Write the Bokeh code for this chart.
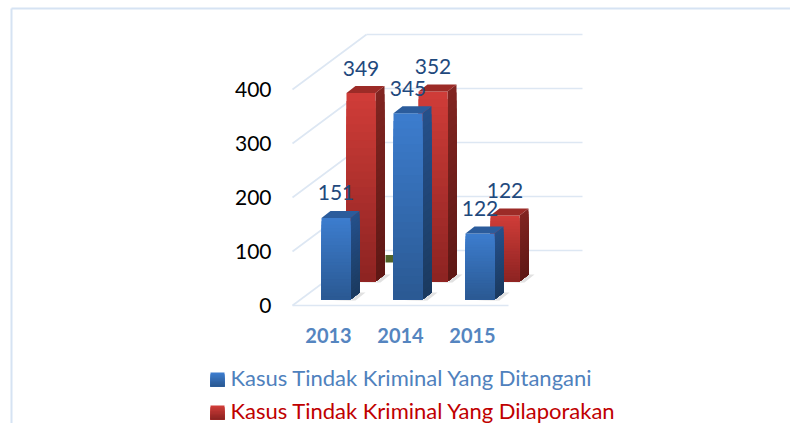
from bokeh.embed import file_html
from bokeh.resources import INLINE
from bokeh.plotting import figure
from bokeh.models import Range1d, LinearAxis, FixedTicker
from bokeh.core.properties import value

categories = ["2013", "2014", "2015"]
handled = [151, 345, 122]
reported = [349, 352, 122]
hidden_series = [14]
y_ticks = [0, 100, 200, 300, 400]
legend_names = ["Kasus Tindak Kriminal Yang Ditangani", "Kasus Tindak Kriminal Yang Dilaporakan"]

W, H = 790, 423
PAGE = 0         # figure's page offset as rendered
PX_X = 72.0      # pixels per category
PX_Y = 0.54      # pixels per value unit
X0, Y0 = 328.0 - PAGE, 305.0 - PAGE   # pixel position of category 0 / value 0 inside the figure


def dx(px):
    return px / PX_X


def dy(px):
    return px / PX_Y


def X(px):  # page px -> data
    return (px - PAGE - X0) / PX_X


def Y(py):  # page py -> data
    return (Y0 - (py - PAGE)) / PX_Y


def mix(a, b, t):
    return "#%02x%02x%02x" % tuple(round(a[i] + (b[i] - a[i]) * t) for i in range(3))


p = figure(width=W, height=H, output_backend="svg", toolbar_location=None, min_border=0,
           x_range=Range1d(X(PAGE), X(PAGE + W)), y_range=Range1d(Y(PAGE + H), Y(PAGE)),
           x_axis_location=None, y_axis_location=None, outline_line_color=None)
p.grid.visible = False
p.background_fill_color = "white"

GRID = "#dde7f3"
# outer frame
p.segment([X(11), X(11)], [Y(8), Y(8)], [X(790), X(11)], [Y(8), Y(423)], line_color="#d6e3f3", line_width=2)

# walls and floor
depth_x, depth_y = dx(74), dy(55)
ts = y_ticks
p.segment([0 - 0.5 + depth_x] * len(ts), [t + depth_y for t in ts],
          [2.5 + depth_x] * len(ts), [t + depth_y for t in ts], line_color=GRID, line_width=1.6)
p.segment([-0.5] * len(ts), ts, [-0.5 + depth_x] * len(ts), [t + depth_y for t in ts], line_color=GRID, line_width=1.6)
p.segment([-0.5], [0], [2.5], [0], line_color=GRID, line_width=1.6)

# stray green piece of a third series seen behind the bars
p.quad(left=[0 + dx(57)], right=[1 + dx(-7)], bottom=[dy(43)], top=[dy(43) + hidden_series[0]],
       fill_color="#4f6228", line_color=None)

BAR_W = dx(29)
SIDE_X, SIDE_Y = dx(9), dy(7)
STEPS = 24


def draw_bars(vals, off_x, base, front_top, front_bot, side_top, side_bot, cap):
    for i, v in enumerate(vals):
        l = i + off_x
        r = l + BAR_W
        # soft shadow at the foot
        p.patch([l + dx(2), r, r + SIDE_X, r + SIDE_X + dx(6), r + dx(5)],
                [base, base - dy(1.5), base + SIDE_Y, base + SIDE_Y, base - dy(1)],
                fill_color="#d9d9d9", line_color=None, fill_alpha=0.8)
        # front face: painted top colour first, then ever shorter and darker slices
        xs_f, ys_f, cs_f, xs_s, ys_s, cs_s = [], [], [], [], [], []
        for k in range(STEPS):
            t = k / (STEPS - 1)
            h = base + v * (1 - k / STEPS)
            xs_f.append([l, r, r, l])
            ys_f.append([base, base, h, h])
            cs_f.append(mix(front_top, front_bot, t))
            xs_s.append([r, r + SIDE_X, r + SIDE_X, r])
            ys_s.append([base, base + SIDE_Y, h + SIDE_Y, h])
            cs_s.append(mix(side_top, side_bot, t))
        p.patches(xs_s, ys_s, fill_color=cs_s, line_color=None)
        p.patches(xs_f, ys_f, fill_color=cs_f, line_color=None)
        top = base + v
        p.patch([l, r, r + SIDE_X, l + SIDE_X], [top, top, top + SIDE_Y, top + SIDE_Y],
                fill_color=cap, line_color=None)


red_base, blue_base = dy(24), dy(6)
red_off, blue_off = dx(18), dx(-7)
draw_bars(reported, red_off, red_base, (207, 60, 56), (142, 36, 34), (128, 37, 33), (95, 24, 21), "#9c2b27")
draw_bars(handled, blue_off, blue_base, (60, 124, 205), (43, 90, 148), (37, 80, 138), (27, 58, 96), "#2b5c9c")

# data labels
lab_font = value("Lato")
p.text([i + red_off + BAR_W / 2 for i in range(3)], [red_base + v + dy(25) for v in reported],
       text=[str(v) for v in reported], text_font=lab_font, text_font_size="21px", text_color="#1f497d",
       text_align="center", text_baseline="middle")
p.text([i + blue_off + BAR_W / 2 for i in range(3)], [blue_base + v + dy(25) for v in handled],
       text=[str(v) for v in handled], text_font=lab_font, text_font_size="21px", text_color="#1f497d",
       text_align="center", text_baseline="middle")

# axes fixed inside the full-page frame
yax = LinearAxis(ticker=FixedTicker(ticks=y_ticks), fixed_location=X(277))
yax.axis_line_color = None
yax.major_tick_line_color = None
yax.minor_tick_line_color = None
yax.major_label_standoff = 0
yax.major_label_text_font = "Lato"
yax.major_label_text_font_size = "21px"
yax.major_label_text_color = "black"
p.add_layout(yax, "left")

xax = LinearAxis(ticker=FixedTicker(ticks=[0, 1, 2]),
                 major_label_overrides={i: c for i, c in enumerate(categories)}, fixed_location=0)
xax.axis_line_color = None
xax.major_tick_line_color = None
xax.minor_tick_line_color = None
xax.major_label_standoff = 16
xax.major_label_text_font = "Lato"
xax.major_label_text_font_style = "bold"
xax.major_label_text_font_size = "20px"
xax.major_label_text_color = "#5585c0"
p.add_layout(xax, "below")

# legend
swatch = [((60, 124, 205), (43, 90, 148), legend_names[0], "#4f81bd", 379),
          ((207, 60, 56), (142, 36, 34), legend_names[1], "#c00000", 412)]
for top_c, bot_c, name, col, py in swatch:
    n = 10
    xs, ys, cs = [], [], []
    for k in range(n):
        xs.append([X(210), X(224), X(224), X(210)])
        ys.append([Y(py + 7), Y(py + 7), Y(py - 7 + 14 * k / n), Y(py - 7 + 14 * k / n)])
        cs.append(mix(top_c, bot_c, k / (n - 1)))
    p.patches(xs, ys, fill_color=cs, line_color=None)
    p.text([X(230)], [Y(py - 2)], text=[name], text_font=value("Lato"), text_font_size="22px", text_color=col,
           text_align="left", text_baseline="middle")

open("out.html", "w").write(file_html(p, INLINE))
